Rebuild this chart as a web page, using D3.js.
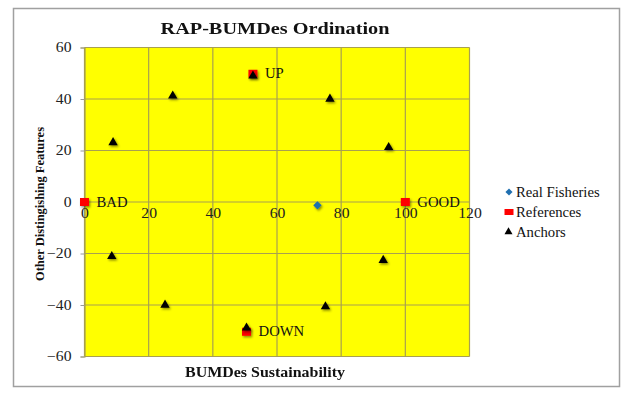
<!DOCTYPE html>
<html><head><meta charset="utf-8">
<script src="https://cdn.jsdelivr.net/npm/d3@7"></script>
<style>body{margin:0;background:#fff}svg{display:block}</style>
</head><body>
<svg id="c" width="629" height="399"></svg>
<script>
const xTicks = [0, 20, 40, 60, 80, 100, 120];
const yTicks = [-60, -40, -20, 0, 20, 40, 60];
const realX = [72.6];
const realY = [-1.3];
const refLabels = ["BAD", "GOOD", "UP", "DOWN"];
const refX = [0, 100, 52.5, 50.5];
const refY = [0, 0, 49.8, -50.4];
const anchorX = [8.9, 27.5, 52.5, 76.5, 94.8, 93.1, 75.1, 50.5, 25.1, 8.5];
const anchorY = [23.1, 41.2, 49.0, 40.0, 21.2, -22.6, -40.6, -48.9, -40.0, -21.1];
const legendNames = ["Real Fisheries", "References", "Anchors"];

const svg = d3.select("#c");
const serif = "'Liberation Serif','Times New Roman',serif";
const gridCol = "#a8a050";

function stretch(sel, k) {
  sel.each(function () {
    const w = this.getComputedTextLength();
    d3.select(this).attr("textLength", w * k).attr("lengthAdjust", "spacingAndGlyphs");
  });
}

const defs = svg.append("defs");
const f = defs.append("filter").attr("id", "sh").attr("x", "-50%").attr("y", "-50%").attr("width", "200%").attr("height", "200%");
f.append("feDropShadow").attr("dx", 1.2).attr("dy", 1.5).attr("stdDeviation", 1).attr("flood-color", "#000").attr("flood-opacity", 0.45);

// outer border
svg.append("rect").attr("x", 13.5).attr("y", 8.5).attr("width", 606).attr("height", 378)
  .attr("fill", "#fff").attr("stroke", "#a0a0a0").attr("stroke-width", 1.5);

const x = d3.scaleLinear().domain([0, 120]).range([84.5, 469.5]);
const y = d3.scaleLinear().domain([-60, 60]).range([356.5, 47.5]);

svg.append("rect").attr("x", x(0)).attr("y", y(60)).attr("width", x(120) - x(0)).attr("height", y(-60) - y(60))
  .attr("fill", "#ffff00");

// grid
svg.append("g").selectAll("line").data(xTicks).join("line")
  .attr("x1", d => x(d)).attr("x2", d => x(d)).attr("y1", y(60)).attr("y2", y(-60))
  .attr("stroke", gridCol).attr("stroke-width", 1.2);
svg.append("g").selectAll("line").data(yTicks).join("line")
  .attr("x1", x(0)).attr("x2", x(120)).attr("y1", d => y(d)).attr("y2", d => y(d))
  .attr("stroke", gridCol).attr("stroke-width", 1.2);

// y axis
const yAxis = svg.append("g").attr("transform", `translate(${x(0)},0)`)
  .call(d3.axisLeft(y).tickValues(yTicks).tickSize(4).tickPadding(9));
yAxis.select(".domain").attr("stroke", gridCol).attr("stroke-width", 1.2);
yAxis.selectAll(".tick line").attr("stroke", "#999");
yAxis.selectAll("text").attr("font-family", serif).attr("font-size", 14).attr("fill", "#222");
stretch(yAxis.selectAll("text"), 1.12);

// x axis at y=0
const xAxis = svg.append("g").attr("transform", `translate(0,${y(0)})`)
  .call(d3.axisBottom(x).tickValues(xTicks).tickSize(0).tickPadding(6));
xAxis.select(".domain").remove();
xAxis.selectAll("text").attr("font-family", serif).attr("font-size", 14).attr("fill", "#222");
stretch(xAxis.selectAll("text"), 1.12);

// references
const refs = refX.map((v, i) => ({ x: v, y: refY[i], label: refLabels[i] }));
svg.append("g").attr("filter", "url(#sh)").selectAll("rect").data(refs).join("rect")
  .attr("x", d => x(d.x) - 4.5).attr("y", d => y(d.y) - 4).attr("width", 9).attr("height", 8)
  .attr("fill", "#ff0000");
const refText = svg.append("g").selectAll("text").data(refs).join("text")
  .attr("x", d => x(d.x) + 12).attr("y", d => y(d.y) + 4.5)
  .attr("font-family", serif).attr("font-size", 14).attr("fill", "#111").text(d => d.label);
stretch(refText, 1.05);

// real fisheries
svg.append("g").attr("filter", "url(#sh)").selectAll("path").data(realX.map((v, i) => ({ x: v, y: realY[i] }))).join("path")
  .attr("d", d3.symbol(d3.symbolDiamond2, 45))
  .attr("transform", d => `translate(${x(d.x)},${y(d.y)})`).attr("fill", "#1f6fb0");

// anchors
svg.append("g").attr("filter", "url(#sh)").selectAll("path").data(anchorX.map((v, i) => ({ x: v, y: anchorY[i] }))).join("path")
  .attr("d", d3.symbol(d3.symbolTriangle, 38))
  .attr("transform", d => `translate(${x(d.x)},${y(d.y)})`).attr("fill", "#000");

// title
const title = svg.append("text").attr("x", 275).attr("y", 34).attr("text-anchor", "middle")
  .attr("font-family", serif).attr("font-weight", "bold").attr("font-size", 17).attr("fill", "#111")
  .attr("textLength", 229).attr("lengthAdjust", "spacingAndGlyphs")
  .text("RAP-BUMDes Ordination");
svg.append("text").attr("x", 265).attr("y", 377).attr("text-anchor", "middle")
  .attr("font-family", serif).attr("font-weight", "bold").attr("font-size", 14).attr("fill", "#111")
  .attr("textLength", 160).attr("lengthAdjust", "spacingAndGlyphs")
  .text("BUMDes Sustainability");
svg.append("text").attr("transform", "translate(44,204) rotate(-90)").attr("text-anchor", "middle")
  .attr("font-family", serif).attr("font-weight", "bold").attr("font-size", 13).attr("fill", "#111")
  .attr("textLength", 154).attr("lengthAdjust", "spacingAndGlyphs")
  .text("Other Distingishing Features");

// legend
const lg = svg.append("g");
const ly = [192, 212, 232];
const lt = lg.selectAll("text").data(legendNames).join("text")
  .attr("x", 516).attr("y", (d, i) => ly[i] + 5)
  .attr("font-family", serif).attr("font-size", 14).attr("fill", "#111").text(d => d);
stretch(lt, 1.05);
lg.append("path").attr("d", d3.symbol(d3.symbolDiamond2, 32)).attr("transform", `translate(509,${ly[0]})`).attr("fill", "#1f6fb0");
lg.append("rect").attr("x", 504.5).attr("y", ly[1] - 3).attr("width", 9).attr("height", 6).attr("fill", "#ff0000");
lg.append("path").attr("d", d3.symbol(d3.symbolTriangle, 28)).attr("transform", `translate(508.5,${ly[2]})`).attr("fill", "#000");
</script>
</body></html>
